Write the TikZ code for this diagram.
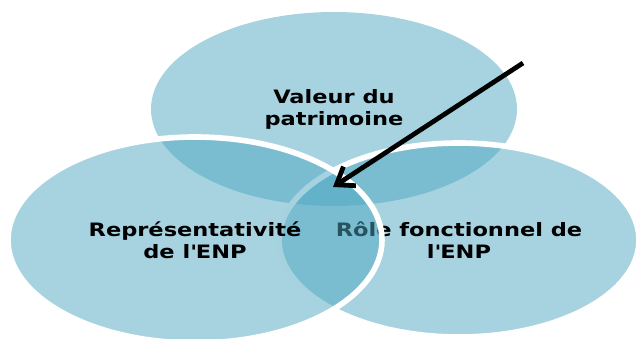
\documentclass[tikz,border=0pt]{standalone}
\usepackage{fontspec}
\setmainfont{DejaVu Sans}[FakeStretch=1.22]
\definecolor{bleuzone}{RGB}{79, 167, 193}
\usetikzlibrary{shapes.geometric, arrows.meta}

\begin{document}
\begin{tikzpicture}[
  zone/.style={ellipse, fill=bleuzone, fill opacity=0.5, text opacity=1, inner sep=0pt, align=center, font=\fontsize{10.5}{12.5}\selectfont\bfseries},
  bord/.style={draw=white, line width=3.2pt},
  fleche/.style={-{Straight Barb[length=9pt, width=13pt]}, line width=2.7pt}
]
  \useasboundingbox (0,0) rectangle (12.78,-6.78);
  % les trois zones
  \node[zone, minimum width=7.32cm, minimum height=3.88cm] (valeur) at (6.68,-2.18) {Valeur du\\patrimoine};
  \node[zone, bord, minimum width=7.2cm, minimum height=3.88cm] (role) at (9.18,-4.80) {Rôle fonctionnel de\\l\textquotesingle ENP};
  \node[zone, bord, minimum width=7.48cm, minimum height=4.12cm] (representativite) at (3.90,-4.80) {Représentativité\\de l\textquotesingle ENP};
  % la fleche
  \coordinate (depart) at (10.46,-1.26);
  \coordinate (pointe) at (6.66,-3.74);
  \draw[fleche] (depart) -- (pointe);
\end{tikzpicture}
\end{document}
